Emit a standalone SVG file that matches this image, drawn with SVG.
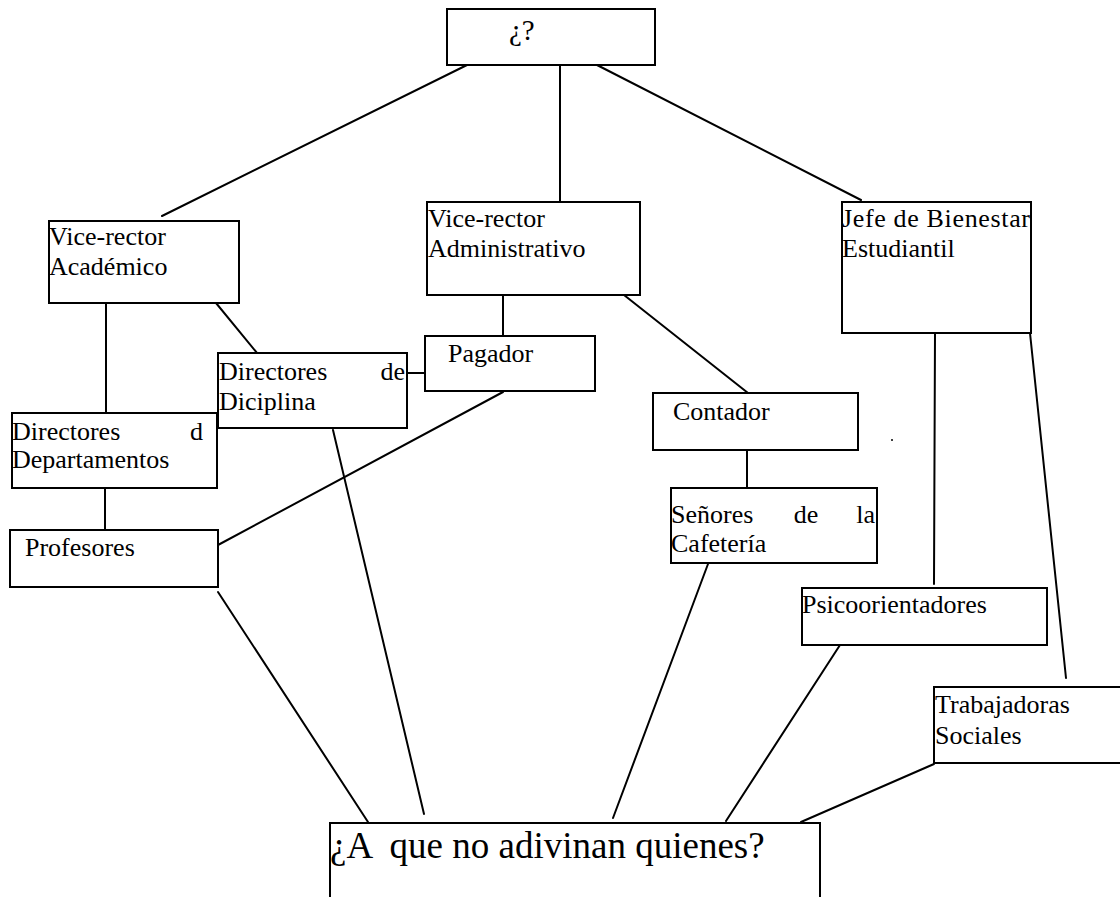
<svg xmlns="http://www.w3.org/2000/svg" width="1120" height="897" viewBox="0 0 1120 897">
  <style>
    .box { fill: #ffffff; stroke: #000000; stroke-width: 2; }
    .link { fill: none; stroke: #000000; stroke-width: 2; stroke-linecap: round; }
    text { font-family: "Liberation Serif", "Times New Roman", serif; font-size: 26px; fill: #000000; }
    .big { font-size: 37px; white-space: pre; }
    .top { font-size: 29px; }
  </style>
  <rect width="1120" height="897" fill="#ffffff"/>

  <!-- connectors -->
  <g id="connectors">
    <line class="link" x1="467" y1="65" x2="162" y2="216"/>
    <line class="link" x1="560" y1="65" x2="560" y2="202"/>
    <line class="link" x1="597" y1="65" x2="861" y2="200"/>
    <line class="link" x1="106" y1="303" x2="106" y2="413"/>
    <line class="link" x1="216" y1="303" x2="257" y2="353"/>
    <line class="link" x1="105" y1="488" x2="105" y2="530"/>
    <line class="link" x1="503" y1="295" x2="503" y2="336"/>
    <line class="link" x1="407" y1="373" x2="425" y2="373"/>
    <line class="link" x1="218" y1="545" x2="503" y2="392"/>
    <line class="link" x1="624" y1="295" x2="748" y2="393"/>
    <line class="link" x1="747" y1="450" x2="747" y2="488"/>
    <line class="link" x1="935" y1="333" x2="934" y2="584"/>
    <line class="link" x1="1030" y1="333" x2="1066" y2="678"/>
    <line class="link" x1="218" y1="592" x2="368" y2="822"/>
    <line class="link" x1="333" y1="430" x2="424" y2="814"/>
    <line class="link" x1="708" y1="564" x2="613" y2="818"/>
    <line class="link" x1="840" y1="645" x2="726" y2="821"/>
    <line class="link" x1="934" y1="764" x2="801" y2="822"/>
  </g>

  <g id="node-top">
    <rect class="box" x="447" y="9" width="208" height="56"/>
    <text class="top" x="509" y="40">¿?</text>
  </g>

  <g id="node-vr-academico">
    <rect class="box" x="49" y="221" width="190" height="82"/>
    <text x="49" y="245">Vice-rector</text>
    <text x="49" y="275">Académico</text>
  </g>

  <g id="node-vr-administrativo">
    <rect class="box" x="427" y="202" width="213" height="93"/>
    <text x="428" y="227">Vice-rector</text>
    <text x="428" y="257">Administrativo</text>
  </g>

  <g id="node-bienestar">
    <rect class="box" x="842" y="202" width="189" height="131"/>
    <text x="842" y="227" font-size="28" textLength="188" lengthAdjust="spacing">Jefe de Bienestar</text>
    <text x="842" y="257" font-size="28">Estudiantil</text>
  </g>

  <g id="node-dir-disciplina">
    <rect class="box" x="218" y="353" width="189" height="75"/>
    <text x="219" y="380">Directores</text>
    <text x="405" y="380" text-anchor="end">de</text>
    <text x="219" y="410">Diciplina</text>
  </g>

  <g id="node-pagador">
    <rect class="box" x="425" y="336" width="170" height="55"/>
    <text x="448" y="362">Pagador</text>
  </g>

  <g id="node-dir-departamentos">
    <rect class="box" x="12" y="413" width="205" height="75"/>
    <text x="12" y="440">Directores</text>
    <text x="203" y="440" text-anchor="end">d</text>
    <text x="12" y="468">Departamentos</text>
  </g>

  <g id="node-profesores">
    <rect class="box" x="10" y="530" width="208" height="57"/>
    <text x="25" y="556">Profesores</text>
  </g>

  <g id="node-contador">
    <rect class="box" x="653" y="393" width="205" height="57"/>
    <text x="673" y="420">Contador</text>
  </g>

  <g id="node-cafeteria">
    <rect class="box" x="671" y="488" width="206" height="75"/>
    <text x="671" y="523">Señores</text>
    <text x="806" y="523" text-anchor="middle">de</text>
    <text x="875" y="523" text-anchor="end">la</text>
    <text x="671" y="552">Cafetería</text>
  </g>

  <g id="node-psico">
    <rect class="box" x="802" y="588" width="245" height="57"/>
    <text x="802" y="613">Psicoorientadores</text>
  </g>

  <g id="node-trabajadoras">
    <rect class="box" x="934" y="687" width="190" height="76"/>
    <text x="935" y="713">Trabajadoras</text>
    <text x="935" y="744">Sociales</text>
  </g>

  <g id="node-bottom">
    <rect class="box" x="330" y="823" width="490" height="90"/>
    <text class="big" x="330" y="858">¿A  que no adivinan quienes?</text>
  </g>

  <circle cx="892" cy="440" r="1" fill="#000000"/>
</svg>
